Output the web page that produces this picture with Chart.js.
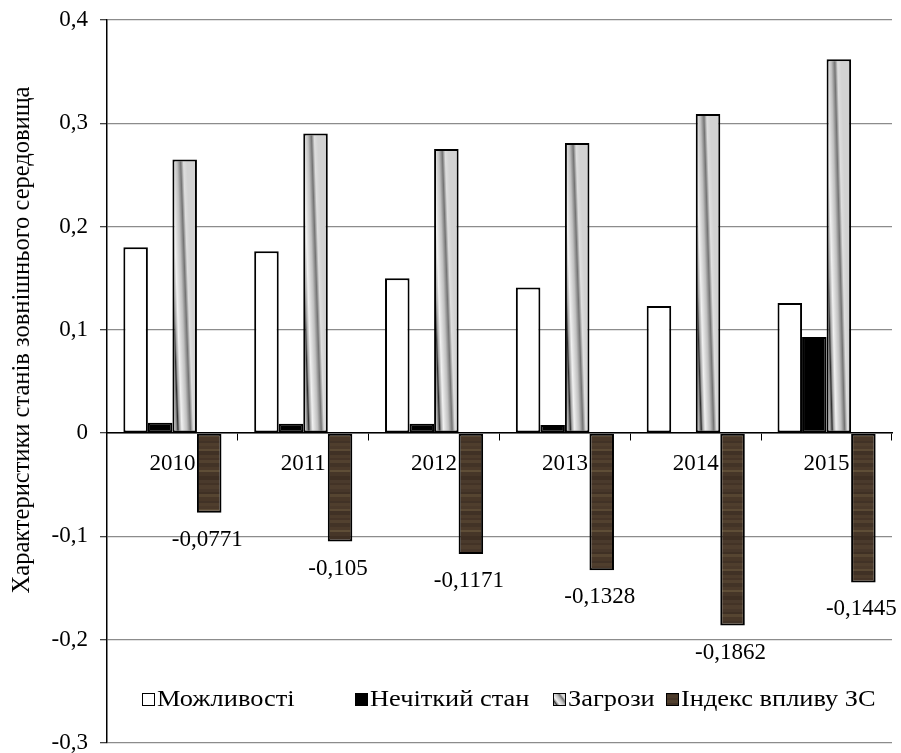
<!DOCTYPE html>
<html>
<head>
<meta charset="utf-8">
<script src="https://cdn.jsdelivr.net/npm/chart.js@4.4.1/dist/chart.umd.min.js"></script>
<style>
  html, body { margin: 0; padding: 0; background: #fff; }
  #wrap { width: 901px; height: 753px; position: relative; }
</style>
</head>
<body>
<div id="wrap"><canvas id="myChart"></canvas></div>
<script>
// дані з діаграми
var years = ['2010', '2011', '2012', '2013', '2014', '2015'];
var seriesNames = ['Можливості', 'Нечіткий стан', 'Загрози', 'Індекс впливу ЗС'];
var opportunities = [0.180, 0.176, 0.150, 0.141, 0.123, 0.126];
var fuzzy = [0.010, 0.009, 0.009, 0.008, 0, 0.093];
var threats = [0.265, 0.290, 0.275, 0.281, 0.309, 0.362];
var impactIndex = [-0.0771, -0.105, -0.1171, -0.1328, -0.1862, -0.1445];
var yTicks = { min: -0.3, max: 0.4, step: 0.1 };

var FONT = '"Liberation Serif", "Times New Roman", serif';
var CAT_PCT = 0.75;

// текстура для індексу (коричневі смуги)
function makeBrownPattern() {
    var c = document.createElement('canvas');
    c.width = 4; c.height = 60;
    var g = c.getContext('2d');
    var tones = ['#4a3a2c', '#433326', '#4e3d2d', '#47372a', '#3f3024', '#564531', '#483728',
                 '#413226', '#4f3e2d', '#4a392a', '#5a4934', '#403125', '#4c3b2b', '#453427',
                 '#52412f', '#423326', '#4b3a2a', '#5f4e37', '#463628', '#3e2f23'];
    var hs = [3, 2, 4, 3, 2, 3, 4, 2, 3, 3, 2, 4, 3, 2, 3, 4, 3, 2, 4, 4];
    var y = 0;
    for (var i = 0; i < tones.length; i++) {
        g.fillStyle = tones[i];
        g.fillRect(0, y, 4, hs[i]);
        y += hs[i];
    }
    return g.createPattern(c, 'repeat');
}
var brownPattern = makeBrownPattern();

function threatGradient(ctx, left, w, bottom, h) {
    var s = h > 0 ? 10 / h : 0;
    var len = w * 1.45;
    var x0 = left - w * 0.45, y0 = bottom + w * 0.45 * s;
    var gr = ctx.createLinearGradient(x0, y0, x0 + len, y0 - len * s);
    gr.addColorStop(0.00, '#3c3c3c');
    gr.addColorStop(0.12, '#7a7a7a');
    gr.addColorStop(0.24, '#f4f4f4');
    gr.addColorStop(0.36, '#dadada');
    gr.addColorStop(0.43, '#8a8a8a');
    gr.addColorStop(0.47, '#2e2e2e');
    gr.addColorStop(0.51, '#a0a0a0');
    gr.addColorStop(0.58, '#f0f0f0');
    gr.addColorStop(0.72, '#c0c0c0');
    gr.addColorStop(0.82, '#747474');
    gr.addColorStop(0.90, '#dedede');
    gr.addColorStop(1.00, '#d2d2d2');
    return gr;
}

function threatFill(c) {
    var chart = c.chart;
    var xs = chart.scales.x, ys = chart.scales.y;
    if (!xs || !ys || c.dataIndex === undefined || !chart.chartArea) return '#c0c0c0';
    var catW = (xs.right - xs.left) / years.length;
    var barW = catW * CAT_PCT / 4;
    var cx = xs.getPixelForValue(c.dataIndex);
    var left = cx - catW * CAT_PCT / 2 + 2 * barW;
    var base = ys.getPixelForValue(0);
    var top = ys.getPixelForValue(threats[c.dataIndex]);
    return threatGradient(chart.ctx, left, barW, base, base - top);
}

function fmt(v) {
    if (Math.abs(v) < 1e-9) return '0';
    return String(v).replace('.', ',');
}

// підписи значень індексу під стовпчиками
var valueLabels = {
    id: 'valueLabels',
    afterDatasetsDraw: function(chart) {
        var ctx = chart.ctx;
        var meta = chart.getDatasetMeta(3);
        ctx.save();
        ctx.font = '23px ' + FONT;
        ctx.fillStyle = '#000';
        ctx.textAlign = 'center';
        ctx.textBaseline = 'middle';
        meta.data.forEach(function(el, i) {
            ctx.fillText(fmt(impactIndex[i]), el.x - 2, el.y + 27);
        });
        ctx.restore();
    }
};

// легенда всередині області графіка
var insideLegend = {
    id: 'insideLegend',
    afterDraw: function(chart) {
        var ctx = chart.ctx;
        var xs = [142, 355, 553, 666];
        var yc = 700;
        chart.data.datasets.forEach(function(ds, i) {
            var bx = xs[i], by = yc - 7, bs = 13;
            ctx.save();
            if (i === 2) ctx.fillStyle = threatGradient(ctx, bx, bs, by + bs, bs);
            else if (i === 3) ctx.fillStyle = brownPattern;
            else ctx.fillStyle = ds.backgroundColor;
            ctx.fillRect(bx, by, bs, bs);
            ctx.lineWidth = 1;
            ctx.strokeStyle = '#000';
            ctx.strokeRect(bx + 0.5, by + 0.5, bs - 1, bs - 1);
            ctx.translate(bx + bs + 2, yc);
            ctx.scale(1.1, 1);
            ctx.font = '24px ' + FONT;
            ctx.textBaseline = 'middle';
            ctx.textAlign = 'left';
            ctx.fillStyle = '#000';
            ctx.fillText(ds.label, 0, 0);
            ctx.restore();
        });
    }
};

// назва осі Y
var yTitle = {
    id: 'yTitle',
    afterDraw: function(chart) {
        var ctx = chart.ctx;
        ctx.save();
        ctx.translate(23, 340);
        ctx.rotate(-Math.PI / 2);
        ctx.font = '24.5px ' + FONT;
        ctx.fillStyle = '#000';
        ctx.textAlign = 'center';
        ctx.textBaseline = 'middle';
        ctx.fillText('Характеристики станів зовнішнього середовища', 0, 0);
        ctx.restore();
    }
};

var ctx = document.getElementById('myChart').getContext('2d');
var myChart = new Chart(ctx, {
    type: 'bar',
    data: {
        labels: years,
        datasets: [
            { label: seriesNames[0], data: opportunities, backgroundColor: '#ffffff' },
            { label: seriesNames[1], data: fuzzy, backgroundColor: '#000000' },
            { label: seriesNames[2], data: threats, backgroundColor: threatFill },
            { label: seriesNames[3], data: impactIndex, backgroundColor: brownPattern }
        ]
    },
    options: {
        responsive: true,
        maintainAspectRatio: false,
        animation: false,
        devicePixelRatio: 1,
        layout: { padding: { left: 0, right: 9, top: 20, bottom: 10 } },
        datasets: {
            bar: {
                borderColor: '#000',
                borderWidth: 2,
                borderSkipped: false,
                categoryPercentage: CAT_PCT,
                barPercentage: 1
            }
        },
        plugins: {
            legend: { display: false },
            tooltip: { enabled: false }
        },
        scales: {
            x: {
                position: { y: 0 },
                grid: { drawOnChartArea: false, drawTicks: true, tickLength: 7, color: '#000', lineWidth: 1 },
                border: { display: true, color: '#000', width: 1.5 },
                ticks: {
                    color: '#000',
                    font: { family: FONT, size: 23 },
                    padding: 10,
                    maxRotation: 0
                }
            },
            y: {
                min: yTicks.min,
                max: yTicks.max,
                afterFit: function(scale) {
                    scale.width = 107;
                    scale.paddingTop = 0;
                    scale.paddingBottom = 0;
                },
                grid: { color: '#8c8c8c', lineWidth: 1.3, tickLength: 7, tickColor: '#444' },
                border: { display: true, color: '#000', width: 1.5 },
                ticks: {
                    stepSize: yTicks.step,
                    color: '#000',
                    padding: 12,
                    font: { family: FONT, size: 23 },
                    callback: function(v) { return fmt(Math.round(v * 10) / 10); }
                }
            }
        }
    },
    plugins: [valueLabels, insideLegend, yTitle]
});
</script>
</body>
</html>
